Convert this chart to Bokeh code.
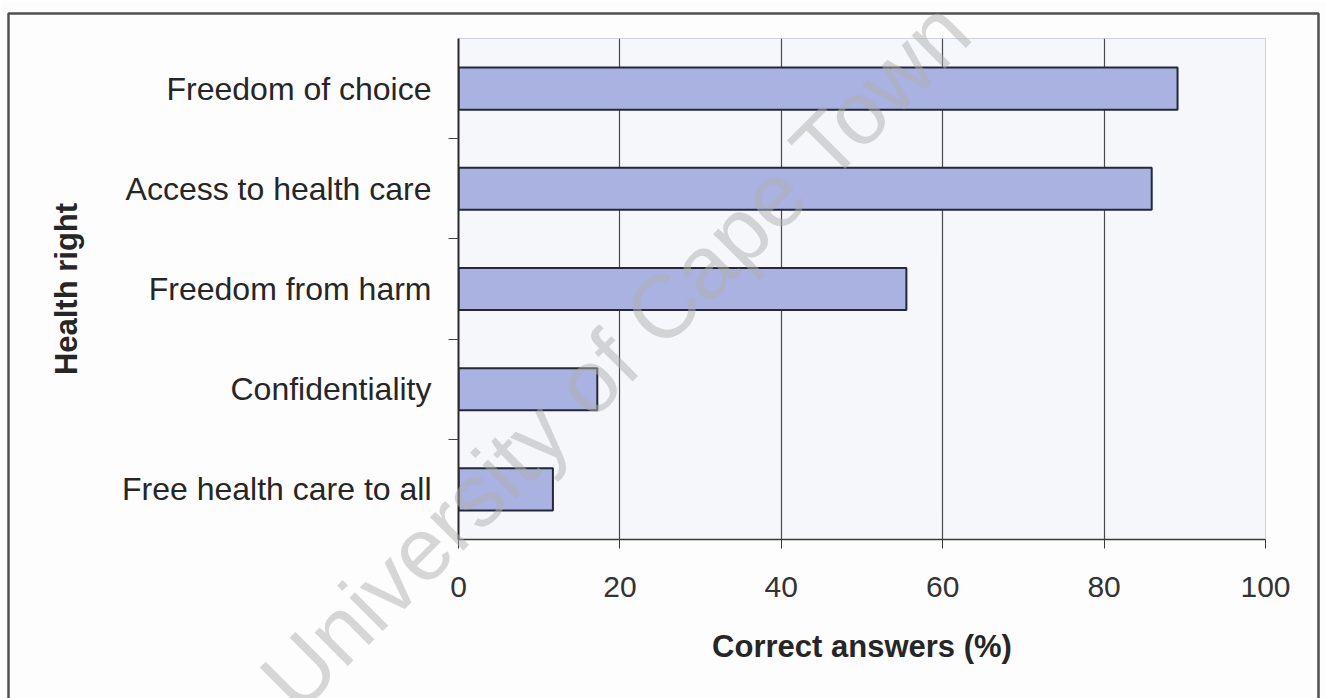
from bokeh.plotting import figure
from bokeh.layouts import column
from bokeh.models import Range1d, FixedTicker, Label, BoxAnnotation
from bokeh.embed import file_html
from bokeh.resources import INLINE

# Share of correct answers per health right (bottom to top)
categories = [
    "Free health care to all",
    "Confidentiality",
    "Freedom from harm",
    "Access to health care",
    "Freedom of choice",
]
correct_pct = [11.7, 17.2, 55.5, 85.9, 89.1]
x_ticks = [0, 20, 40, 60, 80, 100]

FONT = "Liberation Sans"

W, H = 1325, 698
FL, FR, FT, FB = 458, 1265, 38, 539  # plot frame edges in pixels

p = figure(
    width=W, height=H,
    x_range=Range1d(0, 100), y_range=Range1d(0, len(categories)),
    output_backend="svg", toolbar_location=None,
    min_border_left=FL, min_border_right=W - FR,
    min_border_top=FT, min_border_bottom=H - FB,
    background_fill_color="#f5f7fb", border_fill_color="#fdfdfd",
    outline_line_color="#cfd2d8", outline_line_width=1,
)

ypos = [i + 0.5 for i in range(len(categories))]
p.hbar(y=ypos, left=0, right=correct_pct, height=0.42,
       fill_color="#a9b2e1", line_color="#23283a", line_width=2)

# x axis
xa = p.xaxis[0]
xa.ticker = FixedTicker(ticks=x_ticks)
xa.axis_line_color = "#3a3a3a"
xa.axis_line_width = 1.5
xa.major_tick_in = 0
xa.major_tick_out = 9
xa.major_tick_line_color = "#3a3a3a"
xa.minor_tick_line_color = None
xa.major_label_text_font = FONT
xa.major_label_text_font_size = "30px"
xa.major_label_text_color = "#333333"
xa.major_label_standoff = 28
xa.axis_label = "Correct answers (%)"
xa.axis_label_text_font = FONT
xa.axis_label_text_font_size = "31px"
xa.axis_label_text_font_style = "bold"
xa.axis_label_text_color = "#262626"
xa.axis_label_standoff = 29

# y axis: labels at bar centres, ticks between categories
ya = p.yaxis[0]
ya.ticker = FixedTicker(ticks=ypos, minor_ticks=[1, 2, 3, 4])
ya.major_label_overrides = {y: c for y, c in zip(ypos, categories)}
ya.axis_line_color = "#2a2a2a"
ya.axis_line_width = 2
ya.major_tick_in = 0
ya.major_tick_out = 0
ya.minor_tick_in = 0
ya.minor_tick_out = 10
ya.minor_tick_line_color = "#444444"
ya.major_label_text_font = FONT
ya.major_label_text_font_size = "32px"
ya.major_label_text_color = "#262626"
ya.major_label_standoff = 17
ya.axis_label = "Health right"
ya.axis_label_text_font = FONT
ya.axis_label_text_font_size = "31px"
ya.axis_label_text_font_style = "bold"
ya.axis_label_text_color = "#262626"
ya.axis_label_standoff = 35

p.ygrid.visible = False
p.xgrid.ticker = FixedTicker(ticks=[20, 40, 60, 80])
p.xgrid.grid_line_color = "#4a4a4a"
p.xgrid.grid_line_width = 1.2

# transparent layer over the whole page for the frame line and watermark
ov = figure(
    width=W, height=H, x_range=Range1d(0, W), y_range=Range1d(0, H),
    output_backend="svg", toolbar_location=None,
    x_axis_location=None, y_axis_location=None,
    min_border=0, outline_line_color=None,
    background_fill_alpha=0, border_fill_alpha=0,
)
ov.grid.visible = False

ov.add_layout(BoxAnnotation(left=8, right=1318, top=H - 13, bottom=-50,
                            fill_alpha=0, line_color="#505050", line_alpha=1,
                            line_width=2.5))
ov.add_layout(Label(x=615, y=H - 354, text="University of Cape Town",
                    angle=45, angle_units="deg", text_align="center",
                    text_baseline="middle", text_font=FONT, text_font_size="89px",
                    text_color="#b0b0b0", text_alpha=0.5))

layer = column(ov, margin=(-H, 0, 0, 0))
page = column(p, layer, spacing=0)
open("out.html", "w").write(file_html(page, INLINE))
